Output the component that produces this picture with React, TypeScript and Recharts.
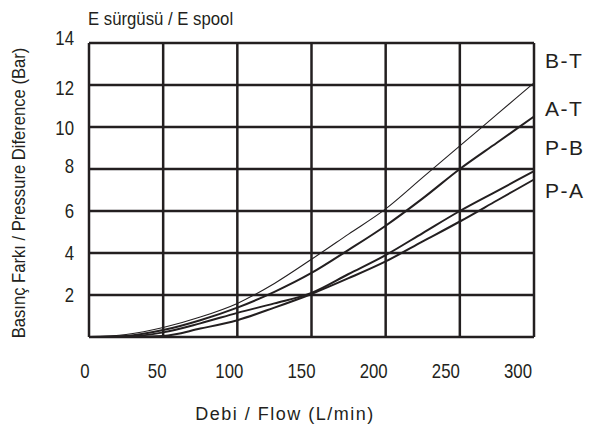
import React from "react";
import { LineChart, Line, XAxis, YAxis, CartesianGrid } from "recharts";

const flows = [0, 25, 50, 75, 100, 125, 150, 175, 200, 225, 250, 275, 300];
const btValues = [0, 0.12, 0.45, 0.95, 1.6, 2.55, 3.7, 4.9, 6.1, 7.6, 9.1, 10.6, 12.1];
const atValues = [0, 0.05, 0.33, 0.8, 1.4, 2.15, 3.05, 4.15, 5.3, 6.6, 8.0, 9.25, 10.5];
const pbValues = [0, 0.02, 0.22, 0.65, 1.15, 1.6, 2.1, 3.0, 3.9, 4.95, 6.0, 6.95, 7.9];
const paValues = [0, 0, 0.05, 0.4, 0.8, 1.4, 2.05, 2.8, 3.6, 4.55, 5.5, 6.5, 7.5];

const xTicks = [0, 50, 100, 150, 200, 250, 300];
const yTicks = [0, 2, 4, 6, 8, 10, 12, 14];
const seriesLabels = ["B-T", "A-T", "P-B", "P-A"];

const title = "E sürgüsü / E spool";
const xTitle = "Debi / Flow (L/min)";
const yTitle = "Basınç Farkı / Pressure Diference (Bar)";

const data = flows.map((f, i) => ({
  flow: f,
  bt: btValues[i],
  at: atValues[i],
  pb: pbValues[i],
  pa: paValues[i],
}));

const INK = "#231f20";
const SANS = "'Liberation Sans', Arial, sans-serif";

const XTick = (props: any) => {
  const { x, y, payload } = props;
  const shift = 4 + payload.value * 0.04;
  return (
    <text
      transform={`translate(${x - shift},${y + 41}) scale(0.84,1)`}
      textAnchor="middle"
      fill={INK}
      fontSize={20}
      fontFamily={SANS}
    >
      {payload.value}
    </text>
  );
};

const yShift: Record<number, number> = { 14: -5, 12: 3, 10: 1, 8: -3 };

const YTick = (props: any) => {
  const { x, y, payload } = props;
  if (payload.value === 0) return null;
  const s = yShift[payload.value] || 0;
  return (
    <text
      transform={`translate(${x - 15},${y + 7 + s}) scale(0.84,1)`}
      textAnchor="end"
      fill={INK}
      fontSize={20}
      fontFamily={SANS}
    >
      {payload.value}
    </text>
  );
};

const labelYs = [68, 116, 155, 198];

export default function App() {
  return (
    <div style={{ position: "absolute", left: 0, top: 0, width: 589, height: 433, background: "#fff" }}>
      <LineChart
        width={589}
        height={433}
        data={data}
        margin={{ top: 43, right: 55, bottom: 36, left: 0 }}
      >
        <CartesianGrid stroke={INK} strokeWidth={2.5} />
        <XAxis
          dataKey="flow"
          type="number"
          domain={[0, 300]}
          ticks={xTicks}
          axisLine={false}
          tickLine={false}
          tickSize={0}
          tickMargin={0}
          height={60}
          tick={<XTick />}
          interval={0}
        />
        <YAxis
          type="number"
          domain={[0, 14]}
          ticks={yTicks}
          axisLine={false}
          tickLine={false}
          tickSize={0}
          tickMargin={0}
          width={89}
          tick={<YTick />}
          interval={0}
        />
        <Line type="monotone" dataKey="bt" stroke={INK} strokeWidth={1.1} dot={false} isAnimationActive={false} />
        <Line type="monotone" dataKey="at" stroke={INK} strokeWidth={2} dot={false} isAnimationActive={false} />
        <Line type="monotone" dataKey="pb" stroke={INK} strokeWidth={2} dot={false} isAnimationActive={false} />
        <Line type="monotone" dataKey="pa" stroke={INK} strokeWidth={2} dot={false} isAnimationActive={false} />
      </LineChart>
      <svg
        width={589}
        height={433}
        style={{ position: "absolute", left: 0, top: 0, pointerEvents: "none" }}
      >
        <text transform="translate(88,25) scale(0.93,1)" fill={INK} fontSize={18} fontFamily={SANS}>
          {title}
        </text>
        <text x={285} y={420} textAnchor="middle" fill={INK} fontSize={18} fontFamily={SANS} letterSpacing={1.5}>
          {xTitle}
        </text>
        <text
          transform="translate(25,193) rotate(-90) scale(0.95,1)"
          textAnchor="middle"
          fill={INK}
          fontSize={17.5}
          fontFamily={SANS}
        >
          {yTitle}
        </text>
        {seriesLabels.map((s, i) => (
          <text key={s} x={545} y={labelYs[i]} fill={INK} fontSize={21} fontFamily={SANS} letterSpacing={1.5}>
            {s}
          </text>
        ))}
      </svg>
    </div>
  );
}
